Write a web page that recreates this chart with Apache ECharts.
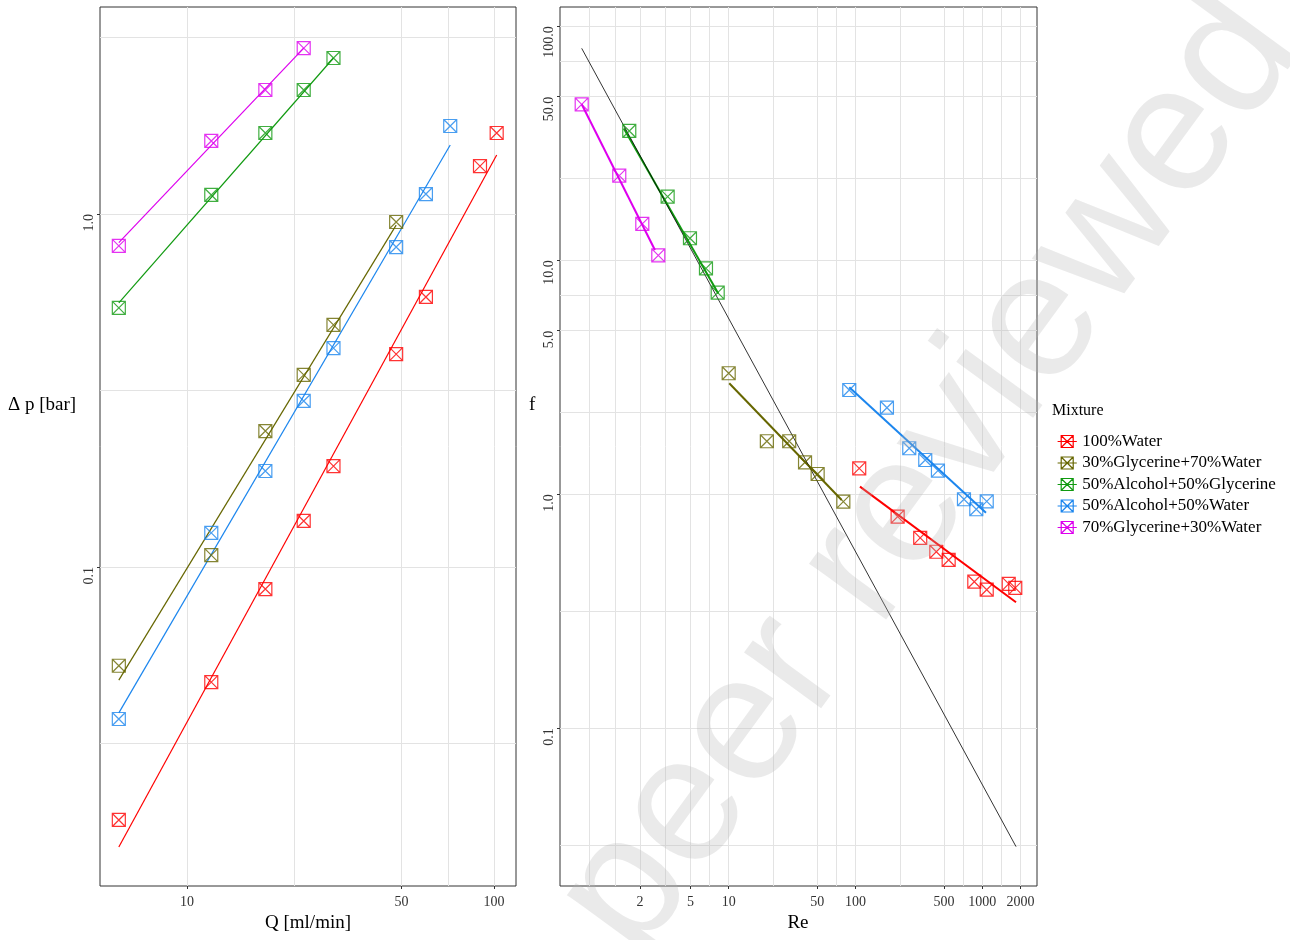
<!DOCTYPE html>
<html><head><meta charset="utf-8">
<script src="https://cdn.jsdelivr.net/npm/echarts@6/dist/echarts.min.js"></script>
<style>html,body{margin:0;padding:0;background:#fff}#c{width:1290px;height:940px}</style>
</head><body><div id="c"></div>
<script>
// ---------- data ----------
const mixtures = ['100%Water','30%Glycerine+70%Water','50%Alcohol+50%Glycerine','50%Alcohol+50%Water','70%Glycerine+30%Water'];
const colors = ['#FF0000','#666600','#109A10','#1C86EE','#DD00EE'];

// Left panel: flow rate Q [ml/min] vs pressure drop [bar]
const qWater    = [6,12,18,24,30,48,60,90,102];
const dpWater   = [0.0192,0.0472,0.0866,0.135,0.193,0.401,0.582,1.367,1.696];
const qGly30    = [6,12,18,24,30,48];
const dpGly30   = [0.0525,0.108,0.2427,0.35,0.485,0.949];
const qAlcGly   = [6,12,18,24,30];
const dpAlcGly  = [0.542,1.132,1.696,2.245,2.766];
const qAlcWat   = [6,12,18,24,30,48,60,72];
const dpAlcWat  = [0.0371,0.1249,0.187,0.2953,0.417,0.806,1.139,1.775];
const qGly70    = [6,12,18,24];
const dpGly70   = [0.812,1.61,2.245,2.95];

// Left panel fitted lines (end points)
const qFitWater  = [6,102];   const dpFitWater  = [0.0161,1.47];
const qFitGly30  = [6,48];    const dpFitGly30  = [0.0478,0.93];
const qFitAlcGly = [6,30];    const dpFitAlcGly = [0.56,2.766];
const qFitAlcWat = [6,72];    const dpFitAlcWat = [0.0386,1.569];
const qFitGly70  = [6,24];    const dpFitGly70  = [0.83,2.95];

// Right panel: Reynolds number vs friction factor
const reWater   = [107,215,324,434,543,865,1084,1616,1820];
const fWater    = [1.291,0.802,0.651,0.568,0.524,0.423,0.391,0.414,0.398];
const reGly30   = [10,20,30,40,50.3,80.2];
const fGly30    = [3.29,1.685,1.685,1.37,1.221,0.930];
const reAlcGly  = [1.644,3.30,4.95,6.62,8.19];
const fAlcGly   = [35.7,18.7,12.42,9.24,7.27];
const reAlcWat  = [89.3,177,265.5,355,447,717,897,1084];
const fAlcWat   = [2.79,2.344,1.573,1.401,1.262,0.952,0.863,0.933];
const reGly70   = [0.693,1.371,2.083,2.785];
const fGly70    = [46.4,22.99,14.3,10.5];

// Right panel fitted lines (end points)
const reFitWater  = [108.5,1845]; const fFitWater  = [1.078,0.3455];
const reFitGly30  = [10.1,77.8];  const fFitGly30  = [2.98,0.945];
const reFitAlcGly = [1.49,8.28];  const fFitAlcGly = [36.6,7.22];
const reFitAlcWat = [89.3,1069];  const fFitAlcWat = [2.865,0.834];
const reFitGly70  = [0.693,2.62]; const fFitGly70  = [46.4,11.07];
// laminar reference line
const reLaminar = [0.693,1846];   const fLaminar = [80.5,0.0312];

// tick labels and grid lines
const leftXTicks  = [10,50,100];
const leftYTicks  = [0.1,1];
const rightXTicks = [2,5,10,50,100,500,1000,2000];
const rightYTicks = [0.1,1,5,10,50,100];
const leftXGrid   = [10,22.36,50,70.71,100];
const leftYGrid   = [0.03162,0.1,0.3162,1,3.162];
const rightXGrid  = [0.8,1.265,2,3.162,5,7.071,10,22.36,50,70.71,100,223.6,500,707.1,1000,1414,2000];
const rightYGrid  = [0.03162,0.1,0.3162,1,2.236,5,7.071,10,22.36,50,70.71,100];

// ---------- chart ----------
const FONT = "'Liberation Serif','Times New Roman',serif";
const zip = (a,b) => a.map((v,i)=>[v,b[i]]);
const markerPath = 'path://M0,0H10V10H0Z M0,0L10,10 M10,0L0,10';
const legendIcon = 'path://M3,0H13V10H3Z M3,0L13,10 M13,0L3,10 M0,5H16';

const leftPts  = [[qWater,dpWater],[qGly30,dpGly30],[qAlcGly,dpAlcGly],[qAlcWat,dpAlcWat],[qGly70,dpGly70]];
const leftFit  = [[qFitWater,dpFitWater],[qFitGly30,dpFitGly30],[qFitAlcGly,dpFitAlcGly],[qFitAlcWat,dpFitAlcWat],[qFitGly70,dpFitGly70]];
const rightPts = [[reWater,fWater],[reGly30,fGly30],[reAlcGly,fAlcGly],[reAlcWat,fAlcWat],[reGly70,fGly70]];
const rightFit = [[reFitWater,fFitWater],[reFitGly30,fFitGly30],[reFitAlcGly,fFitAlcGly],[reFitAlcWat,fFitAlcWat],[reFitGly70,fFitGly70]];

const series = [];
mixtures.forEach((name,i)=>{
  const c = colors[i];
  series.push({name, type:'line', xAxisIndex:0, yAxisIndex:0, data:zip(...leftFit[i]), showSymbol:false, symbol:'none',
    lineStyle:{color:c, width:1.2}, itemStyle:{color:c}, silent:true, z:3});
  series.push({name, type:'line', xAxisIndex:2, yAxisIndex:2, data:zip(...rightFit[i]), showSymbol:false, symbol:'none',
    lineStyle:{color:c, width:2}, itemStyle:{color:c}, silent:true, z:3});
  [[0,leftPts[i]],[2,rightPts[i]]].forEach(([ax,p])=>{
    series.push({name, type:'scatter', xAxisIndex:ax, yAxisIndex:ax, data:zip(...p), symbol:markerPath, symbolSize:13,
      itemStyle:{color:'rgba(0,0,0,0)', borderColor:c, borderWidth:1.2, opacity:0.8}, z:4});
  });
});
series.push({name:'laminar', type:'line', xAxisIndex:2, yAxisIndex:2, data:zip(reLaminar,fLaminar), showSymbol:false, symbol:'none',
  lineStyle:{color:'#000', width:0.8}, silent:true, z:3});

const lab = {color:'#333', fontFamily:FONT, fontSize:14};
function mainAxis(grid, min, max, ticks, isY, margin){
  const al = Object.assign({customValues:ticks, margin, rotate:isY?90:0,
      formatter: v => isY ? Number(v).toFixed(1) : String(Math.round(v))}, lab);
  if (isY) { al.align = 'right'; al.verticalAlign = 'bottom'; }
  return {type:'log', logBase:10, gridIndex:grid, min, max,
    axisLine:{show:false}, splitLine:{show:false}, minorTick:{show:false},
    axisTick:{show:true, length:3, lineStyle:{color:'#333'}, customValues:ticks},
    axisLabel:al};
}
function gridAxis(grid, min, max, vals, pos){
  return {type:'log', logBase:10, gridIndex:grid, min, max, position:pos,
    axisLine:{show:false}, axisLabel:{show:false},
    axisTick:{show:false, customValues:vals},
    splitLine:{show:true, lineStyle:{color:'#e3e3e3', width:1}}};
}

const xL = [5.21,117.9], yL = [0.01248,3.858];
const xR = [0.4673,2701], yR = [0.02118,120.9];

const option = {
  animation:false,
  backgroundColor:'#fff',
  grid:[
    {left:100, top:7, width:416, height:879, show:true, borderColor:'#333', borderWidth:1, backgroundColor:'transparent'},
    {left:560, top:7, width:477, height:879, show:true, borderColor:'#333', borderWidth:1, backgroundColor:'transparent'}
  ],
  xAxis:[
    Object.assign(mainAxis(0, xL[0], xL[1], leftXTicks, false, 9), {position:'bottom'}),
    gridAxis(0, xL[0], xL[1], leftXGrid, 'top'),
    Object.assign(mainAxis(1, xR[0], xR[1], rightXTicks, false, 9), {position:'bottom'}),
    gridAxis(1, xR[0], xR[1], rightXGrid, 'top')
  ],
  yAxis:[
    Object.assign(mainAxis(0, yL[0], yL[1], leftYTicks, true, 4), {position:'left'}),
    gridAxis(0, yL[0], yL[1], leftYGrid, 'right'),
    Object.assign(mainAxis(1, yR[0], yR[1], rightYTicks, true, 4), {position:'left'}),
    gridAxis(1, yR[0], yR[1], rightYGrid, 'right')
  ],
  legend:{
    orient:'vertical', left:1052, top:428, itemWidth:20, itemHeight:12, itemGap:4.5,
    textStyle:{fontFamily:FONT, fontSize:17, color:'#000'},
    data: mixtures.map((n,i)=>({name:n, icon:legendIcon,
      itemStyle:{color:'rgba(0,0,0,0)', borderColor:colors[i], borderWidth:1.2}}))
  },
  graphic:[
    {type:'text', left:1052, top:403, style:{text:'Mixture', font:`16px ${FONT}`, fill:'#000'}},
    {type:'text', x:8, y:405, style:{text:'\u0394 p [bar]', font:`19px ${FONT}`, fill:'#000', textVerticalAlign:'middle'}},
    {type:'text', x:308, y:923, style:{text:'Q [ml/min]', font:`19px ${FONT}`, fill:'#000', textAlign:'center', textVerticalAlign:'middle'}},
    {type:'text', x:529, y:405, style:{text:'f', font:`19px ${FONT}`, fill:'#000', textVerticalAlign:'middle'}},
    {type:'text', x:798, y:923, style:{text:'Re', font:`19px ${FONT}`, fill:'#000', textAlign:'center', textVerticalAlign:'middle'}},
    {type:'text', x:930, y:475, rotation:0.94, z:100, silent:true,
      style:{text:'peer reviewed', font:`180px 'Liberation Sans', Arial, sans-serif`, fill:'rgba(180,180,180,0.28)', textAlign:'center', textVerticalAlign:'middle'}}
  ],
  series
};
const chart = echarts.init(document.getElementById('c'), null, {renderer:'canvas'});
chart.setOption(option);
</script></body></html>
